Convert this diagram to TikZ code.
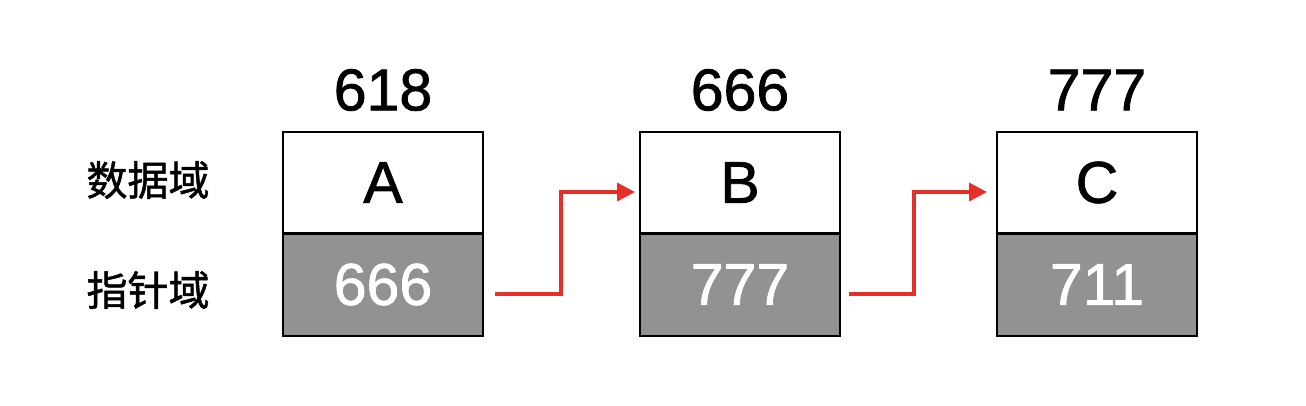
\documentclass[tikz,border=0pt]{standalone}
\usepackage{fontspec}
\setmainfont{Liberation Sans}
\newfontfamily\cjk[FakeBold=1.2]{Noto Sans CJK SC}
\newfontfamily\medsans[FakeBold=1.3]{Liberation Sans}
\usetikzlibrary{arrows.meta}
\definecolor{cellgray}{HTML}{929292}
\definecolor{linkred}{HTML}{E5302A}
\begin{document}
\begin{tikzpicture}[x=1pt,y=-1pt,
  databox/.style={draw=black,line width=2pt,fill=white,minimum width=200pt,minimum height=101pt,inner sep=0pt,font=\medsans\fontsize{59}{60}\selectfont},
  ptrbox/.style={draw=black,line width=2pt,fill=cellgray,text=white,minimum width=200pt,minimum height=102pt,inner sep=0pt,font=\medsans\fontsize{59}{60}\selectfont},
  addr/.style={inner sep=0pt,font=\medsans\fontsize{59}{60}\selectfont},
  rowlabel/.style={inner sep=0pt,font=\cjk\fontsize{41}{42}\selectfont},
  link/.style={draw=linkred,line width=3.5pt,-{Triangle[length=18pt,width=18pt]}}
]
\useasboundingbox (0,0) rectangle (1306,406);
\fill[white] (0,0) rectangle (1306,406);

\node[rowlabel] (ldata) at (148,180) {数据域};
\node[rowlabel] (lptr) at (148,290) {指针域};

\node[databox] (topA) at (383,182.5) {A};
\node[ptrbox]  (botA) at (383,284.5) {666};
\node[addr] (adrA) at (383,90) {618};

\node[databox] (topB) at (740,182.5) {B};
\node[ptrbox]  (botB) at (740,284.5) {777};
\node[addr] (adrB) at (740,90) {666};

\node[databox] (topC) at (1097,182.5) {C};
\node[ptrbox]  (botC) at (1097,284.5) {711};
\node[addr] (adrC) at (1097,90) {777};

\coordinate (sA) at (495,294);
\coordinate (sB) at (849,294);
\draw[link,shorten >=4pt] (sA) -| (561,192) -- (topB.west |- 0,192);
\draw[link,shorten >=9pt] (sB) -| (914,192) -- (topC.west |- 0,192);
\end{tikzpicture}
\end{document}
